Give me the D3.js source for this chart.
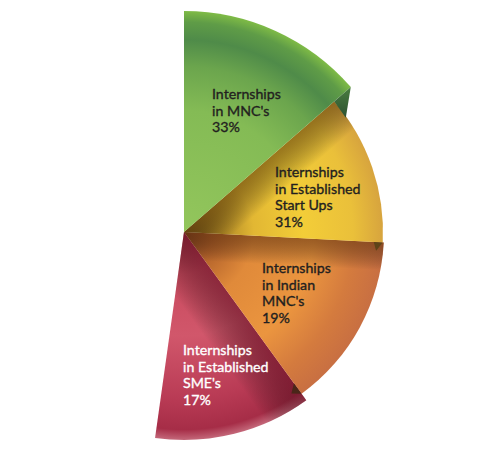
<!DOCTYPE html>
<html><head><meta charset="utf-8">
<script src="https://cdn.jsdelivr.net/npm/d3@7"></script>
<style>body{margin:0;background:#fff}svg{display:block}</style>
</head><body>
<svg id="chart" width="500" height="460"></svg>
<script>
// ---- data ----
const categories = ["Internships in MNC's", "Internships in Established Start Ups", "Internships in Indian MNC's", "Internships in Established SME's"];
const labelLines = [["Internships", "in MNC's"], ["Internships", "in Established", "Start Ups"], ["Internships", "in Indian", "MNC's"], ["Internships", "in Established", "SME's"]];
const percentages = [33, 31, 19, 17];
// angular share each slice occupies in the picture (degrees)
const drawnSpan = [49, 44, 51, 44];

// ---- styling / layout ----
const W = 500, H = 460, cx = 184, cy = 232;
const style = [
  { r: 221, text: "#231f20", stops: [[0,"#93c65c"],[0.55,"#84bb55"],[0.75,"#6ba54d"],[0.87,"#4f8b49"],[0.95,"#5f9c47"],[1,"#7fbb46"]], shade: null, label: [28, -133] },
  { r: 199, text: "#231f20", stops: [[0,"#6e4e18"],[0.15,"#a37c22"],[0.35,"#e2b733"],[0.6,"#f3cd38"],[0.85,"#eac03a"],[1,"#d7a43e"]], shade: "rgba(95,62,10,0.6)", shadeW: 34, label: [91, -55] },
  { r: 200, text: "#231f20", stops: [[0,"#7a3e1e"],[0.15,"#b0602a"],[0.35,"#e08a3a"],[0.65,"#eb953f"],[0.85,"#d47b3e"],[1,"#c86f42"]], shade: "rgba(90,45,12,0.55)", shadeW: 28, label: [78, 41] },
  { r: 208, text: "#ffffff", stops: [[0,"#9a3040"],[0.2,"#c94a5e"],[0.5,"#d1576b"],[0.8,"#b93b55"],[0.95,"#a62d47"],[1,"#c4687a"]], shade: "rgba(100,15,35,0.6)", shadeW: 45, label: [-1, 123] }
];
const lineH = 16.6;

const data = categories.map((c, i) => ({ name: c, lines: labelLines[i], pct: percentages[i], span: drawnSpan[i], st: style[i], i }));

const deg = Math.PI / 180;
const pie = d3.pie().value(d => d.span).sort(null).startAngle(0).endAngle(d3.sum(drawnSpan) * deg);
const arcs = pie(data);

const svg = d3.select("#chart");
const defs = svg.append("defs");
const g = svg.append("g").attr("transform", `translate(${cx},${cy})`);

arcs.forEach(a => {
  const d = a.data;
  const rg = defs.append("radialGradient").attr("id", "rg" + d.i)
    .attr("gradientUnits", "userSpaceOnUse").attr("cx", 0).attr("cy", 0).attr("r", d.st.r);
  d.st.stops.forEach(s => rg.append("stop").attr("offset", s[0]).attr("stop-color", s[1]));
  if (d.st.shade) {
    const lg = defs.append("linearGradient").attr("id", "lg" + d.i)
      .attr("gradientUnits", "userSpaceOnUse")
      .attr("x1", 0).attr("y1", 0)
      .attr("x2", d.st.shadeW * Math.cos(a.startAngle)).attr("y2", d.st.shadeW * Math.sin(a.startAngle));
    lg.append("stop").attr("offset", 0).attr("stop-color", d.st.shade);
    lg.append("stop").attr("offset", 1).attr("stop-color", "rgba(0,0,0,0)");
  }
});

// side-face gradients
const fg = defs.append("linearGradient").attr("id", "faceG").attr("x1", 0).attr("y1", 0).attr("x2", 0).attr("y2", 1);
fg.append("stop").attr("offset", 0).attr("stop-color", "#4a7e40");
fg.append("stop").attr("offset", 1).attr("stop-color", "#2c5030");

// draw order: back slices first
const order = arcs.slice().reverse();
order.forEach(a => {
  const d = a.data;
  const arcGen = d3.arc().innerRadius(0).outerRadius(d.st.r);
  g.append("path").attr("d", arcGen(a)).attr("fill", `url(#rg${d.i})`);
  if (d.st.shade) g.append("path").attr("d", arcGen(a)).attr("fill", `url(#lg${d.i})`);
});

// 3D side faces at slice ends
const pr = (ang, r) => d3.pointRadial(ang, r);
const gA = arcs[0], yA = arcs[1], oA = arcs[2];
g.append("path").attr("fill", "url(#faceG)").attr("d", d3.line()([
  pr(gA.endAngle, gA.data.st.r),
  pr(gA.endAngle + 5.8 * deg, yA.data.st.r - 1),
  pr(gA.endAngle, yA.data.st.r)
]) + "Z");
g.append("path").attr("fill", "#5e4418").attr("d", d3.line()([
  pr(yA.endAngle, yA.data.st.r),
  pr(yA.endAngle + 2.6 * deg, yA.data.st.r - 6),
  pr(yA.endAngle, yA.data.st.r - 9)
]) + "Z");
g.append("path").attr("fill", "#4a2619").attr("d", d3.line()([
  pr(oA.endAngle, oA.data.st.r),
  pr(oA.endAngle + 2.4 * deg, oA.data.st.r - 6),
  pr(oA.endAngle, oA.data.st.r - 13)
]) + "Z");

// labels
arcs.forEach(a => {
  const d = a.data;
  const t = g.append("text")
    .attr("font-family", "Lato, 'Open Sans', sans-serif")
    .attr("font-size", 14.2)
    .attr("fill", d.st.text)
    .attr("stroke", d.st.text).attr("stroke-width", 0.35)
    .attr("x", d.st.label[0]).attr("y", d.st.label[1]);
  const lines = d.lines.concat([d.pct + "%"]);
  lines.forEach((l, k) => t.append("tspan").attr("x", d.st.label[0]).attr("y", d.st.label[1] + k * lineH).text(l));
});
</script>
</body></html>
